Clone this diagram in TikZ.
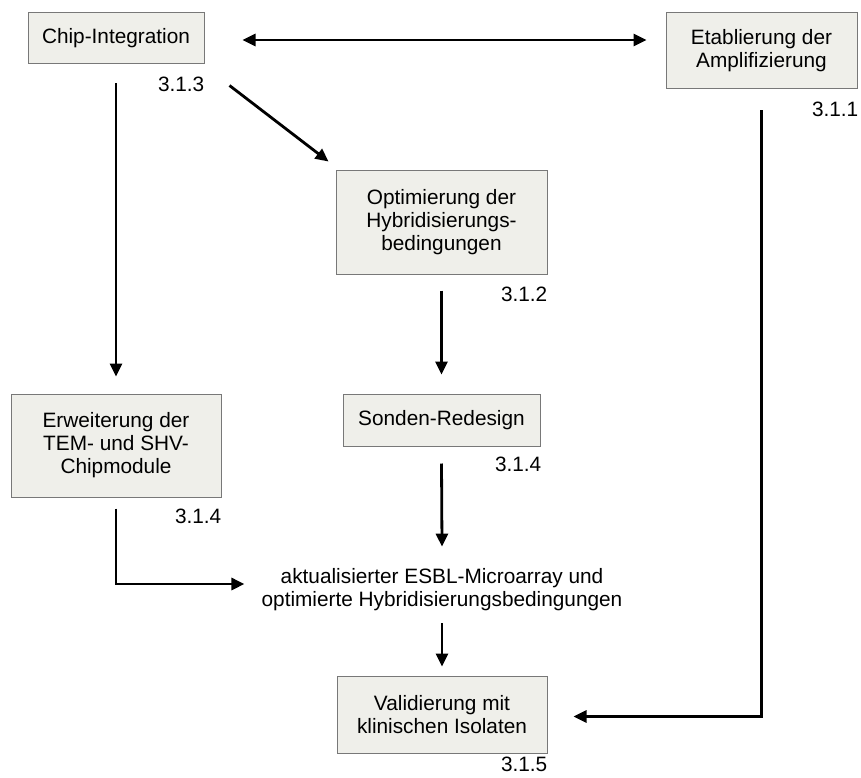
\documentclass[tikz,border=0pt]{standalone}
\usepackage{fontspec}
\setmainfont{Liberation Sans}
\usetikzlibrary{arrows.meta}

\definecolor{kastengrau}{RGB}{239,239,234}
\definecolor{randgrau}{RGB}{120,120,120}

\tikzset{
  kasten/.style={draw=randgrau, line width=1pt, fill=kastengrau, align=center,
    inner sep=0pt, font=\fontsize{20.8}{23}\selectfont},
  nummer/.style={inner sep=0pt, font=\fontsize{20.8}{23}\selectfont},
  pfeil/.style={->, line width=2.8pt}
}

\begin{document}
\begin{tikzpicture}[x=1pt, y=-1pt, >={Triangle[length=13pt,width=12pt]}]
    \useasboundingbox (0,0) rectangle (861,778);

    % Kästen
    \node[kasten, minimum width=176pt, minimum height=51pt] (chip) at (116,38.5) {Chip-Integration};
    \node[kasten, minimum width=191pt, minimum height=76pt] (etab) at (761.5,51) {Etablierung der\\Amplifizierung};
    \node[kasten, minimum width=211pt, minimum height=103pt] (opt) at (441.5,222.5) {Optimierung der\\Hybridisierungs-\\bedingungen};
    \node[kasten, minimum width=197pt, minimum height=52pt] (sonden) at (441.5,420) {Sonden-Redesign};
    \node[kasten, minimum width=210pt, minimum height=103pt] (erw) at (116,445.5) {Erweiterung der\\TEM- und SHV-\\Chipmodule};
    \node[kasten, minimum width=210pt, minimum height=77pt] (valid) at (442,715) {Validierung mit\\klinischen Isolaten};

    % Zwischenergebnis ohne Rahmen
    \node[nummer, align=center] (merge) at (442,590) {aktualisierter ESBL-Microarray und\\optimierte Hybridisierungsbedingungen};

    % Kapitelnummern
    \node[nummer, anchor=north east] (n313) at ([yshift=-12pt]chip.south east) {3.1.3};
    \node[nummer, anchor=north east] (n311) at ([xshift=1pt, yshift=-12pt]etab.south east) {3.1.1};
    \node[nummer, anchor=north east] (n312) at ([yshift=-12pt]opt.south east) {3.1.2};
    \node[nummer, anchor=north east] (n314a) at ([xshift=1pt, yshift=-10pt]sonden.south east) {3.1.4};
    \node[nummer, anchor=north east] (n314b) at ([yshift=-11pt]erw.south east) {3.1.4};
    \node[nummer, anchor=north east] (n315) at ([yshift=-3pt]valid.south east) {3.1.5};

    % Pfeile
    \draw[pfeil, <->] ([xshift=38pt, yshift=-1.5pt]chip.east) -- ([xshift=-19pt, yshift=11pt]etab.west);
    \draw[pfeil] ([yshift=-19pt]chip.south) -- ([yshift=17pt]erw.north);
    \draw[pfeil] ([xshift=25pt, yshift=-21pt]chip.south east) -- ([xshift=-7pt, yshift=9pt]opt.north west);
    \draw[pfeil] ([yshift=-16pt]opt.south) -- ([yshift=19pt]sonden.north);
    \draw[pfeil] ([yshift=-17pt]sonden.south) -- ([yshift=22pt]merge.north);
    \draw[pfeil] ([yshift=-12pt]merge.south) -- ([yshift=9.5pt]valid.north);
    \draw[pfeil] ([yshift=-11pt]erw.south) |- ([xshift=-17pt, yshift=6pt]merge.west);
    \draw[pfeil] ([yshift=-21pt]etab.south) |- ([xshift=26pt, yshift=-1.5pt]valid.east);
\end{tikzpicture}
\end{document}
